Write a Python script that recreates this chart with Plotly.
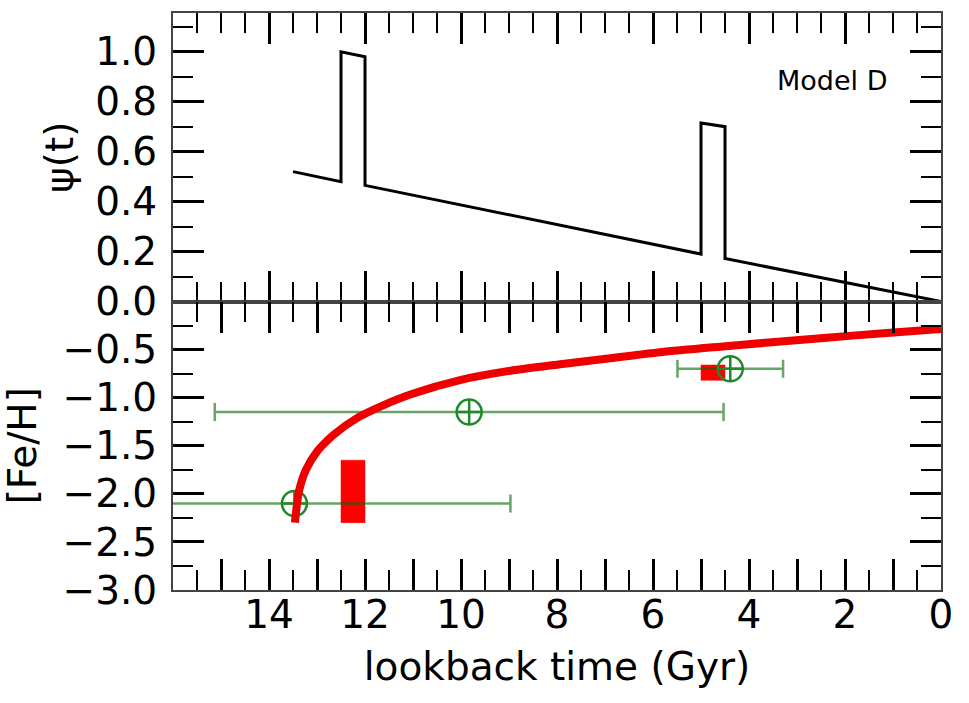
import plotly.graph_objects as go
from plotly.subplots import make_subplots

# ---- data ----
psi_t = [13.5, 12.5, 12.5, 12.0, 12.0, 5.0, 5.0, 4.5, 4.5, 0.0]
psi_val = [0.52, 0.48, 1.0, 0.98, 0.465, 0.19, 0.715, 0.70, 0.172, 0.0]

feh_t = [13.46, 13.42, 13.37, 13.23, 12.99, 12.64, 12.16, 11.67, 11.04, 10.0,
         8.97, 7.93, 6.89, 5.85, 4.6, 3.4, 2.38, 1.2, 0.0]
feh_val = [-2.30, -2.12, -1.96, -1.75, -1.555, -1.38, -1.21, -1.09, -0.965, -0.815,
           -0.72, -0.652, -0.59, -0.528, -0.47, -0.418, -0.376, -0.33, -0.285]

obs_t = [13.47, 9.83, 4.39]
obs_feh = [-2.10, -1.15, -0.70]
obs_terr = [4.5, 5.3, 1.1]

rect_t0 = [12.0, 4.5]
rect_t1 = [12.5, 5.0]
rect_lo = [-2.30, -0.82]
rect_hi = [-1.65, -0.66]

x_tickvals = list(range(0, 17))
x_ticktext = [str(v) if v % 2 == 0 and v <= 14 else "" for v in x_tickvals]

FONT = "DejaVu Sans"

fig = make_subplots(rows=2, cols=1, shared_xaxes=True, vertical_spacing=0)

# top panel
fig.add_trace(go.Scatter(x=psi_t, y=psi_val, mode="lines",
                         line=dict(color="black", width=3), showlegend=False),
              row=1, col=1)

# bottom panel rectangles
for a, b, lo, hi in zip(rect_t0, rect_t1, rect_lo, rect_hi):
    fig.add_trace(go.Scatter(x=[a, b, b, a, a], y=[lo, lo, hi, hi, lo],
                             mode="lines", fill="toself", fillcolor="#ff0000",
                             line=dict(color="#ff0000", width=0.5),
                             showlegend=False, hoverinfo="skip"),
                  row=2, col=1)

# observations
fig.add_trace(go.Scatter(x=obs_t, y=obs_feh, mode="markers",
                         marker=dict(symbol="circle-cross-open", size=25,
                                     color="#1f8a2a",
                                     line=dict(color="#1f8a2a", width=2.5)),
                         error_x=dict(type="data", array=obs_terr, visible=True,
                                      color="rgba(0,105,0,0.6)", thickness=2.5,
                                      width=9),
                         showlegend=False),
              row=2, col=1)

# model curve
fig.add_trace(go.Scatter(x=feh_t, y=feh_val, mode="lines",
                         line=dict(color="#ee0000", width=8, shape="spline", smoothing=0.8),
                         showlegend=False),
              row=2, col=1)

axis_common = dict(
    showline=True, linecolor="#444444", linewidth=2, mirror="ticks",
    ticks="inside", ticklen=31, tickwidth=3, tickcolor="black",
    showgrid=False, zeroline=False,
    tickfont=dict(family=FONT, size=39, color="black"),
)

fig.update_xaxes(**axis_common, range=[16, 0], tickmode="array",
                 tickvals=x_tickvals, ticktext=x_ticktext,
                 minor=dict(tickmode="linear", tick0=0, dtick=0.5, ticks="inside",
                            ticklen=20, tickwidth=2, tickcolor="black"))
fig.update_xaxes(showticklabels=False, row=1, col=1)
fig.update_xaxes(ticklabelstandoff=-11,
                 title=dict(text="lookback time (Gyr)", standoff=17,
                            font=dict(family=FONT, size=39, color="black")),
                 row=2, col=1)

fig.update_yaxes(**axis_common, row=1, col=1, range=[0, 1.155],
                 tickmode="array", tickvals=[0, 0.2, 0.4, 0.6, 0.8, 1.0],
                 ticktext=["0.0", "0.2", "0.4", "0.6", "0.8", "1.0"],
                 minor=dict(tickmode="array", tickvals=[0.1, 0.3, 0.5, 0.7, 0.9, 1.1],
                            ticks="inside", ticklen=20, tickwidth=2, tickcolor="black"),
                 ticklabelstandoff=6,
                 title=dict(text="ψ(t)", standoff=10,
                            font=dict(family=FONT, size=39, color="black")))
fig.update_yaxes(**axis_common, row=2, col=1, range=[-3.0, 0.0],
                 tickmode="array", tickvals=[-3.0, -2.5, -2.0, -1.5, -1.0, -0.5],
                 ticktext=["−3.0", "−2.5", "−2.0", "−1.5", "−1.0", "−0.5"],
                 minor=dict(tickmode="array",
                            tickvals=[-2.75, -2.25, -1.75, -1.25, -0.75, -0.25],
                            ticks="inside", ticklen=20, tickwidth=2, tickcolor="black"),
                 ticklabelstandoff=6,
                 title=dict(text="[Fe/H]", standoff=14,
                            font=dict(family=FONT, size=39, color="black")))

fig.add_annotation(x=2.27, y=0.883, xref="x", yref="y", text="Model D",
                   showarrow=False, font=dict(family=FONT, size=27, color="black"))

fig.update_layout(width=969, height=703, autosize=False,
                  margin=dict(l=173, r=28, t=13, b=113),
                  paper_bgcolor="white", plot_bgcolor="white",
                  font=dict(family=FONT, color="black"))

fig.write_html("out.html")
